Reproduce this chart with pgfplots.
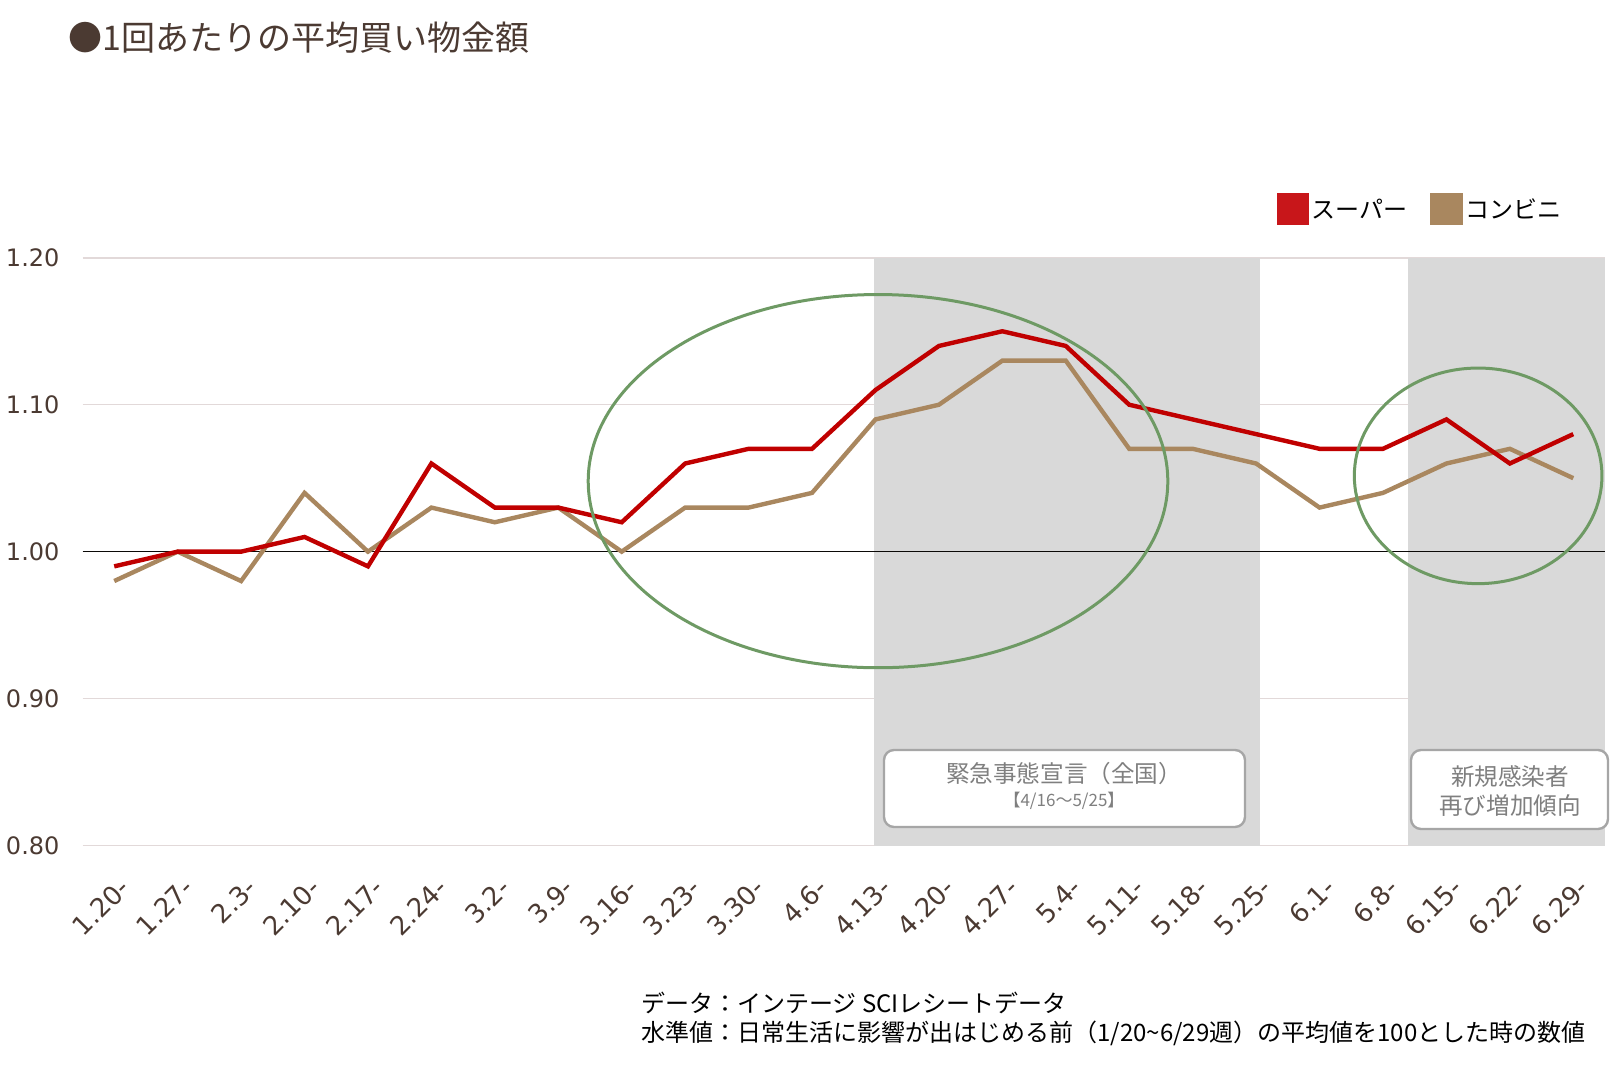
\documentclass[border=0pt]{standalone}
\usepackage{fontspec}
\usepackage{pgfplots}
\pgfplotsset{compat=1.18}
\setmainfont{Noto Sans CJK JP}
\newfontfamily\vd{DejaVu Sans}
\definecolor{redl}{HTML}{C00000}
\definecolor{redleg}{HTML}{C8161A}
\definecolor{brownl}{HTML}{A9875F}
\definecolor{gridc}{HTML}{E2D9D9}
\definecolor{txt}{HTML}{4B3A32}
\definecolor{shadec}{HTML}{D9D9D9}
\definecolor{ell}{HTML}{6E9A64}
\definecolor{boxb}{HTML}{A6A6A6}
\definecolor{boxt}{HTML}{7F7F7F}
\begin{document}
\begin{tikzpicture}
\path[use as bounding box] (0,0) rectangle (808.5pt,-532.5pt);
\begin{axis}[at={(41.25pt,-422.75pt)}, anchor=south west, scale only axis,
  width=761.25pt, height=293.85pt,
  xmin=-0.5, xmax=23.5, ymin=0.8, ymax=1.2,
  axis line style={draw=none}, tick style={draw=none},
  ytick={0.8,0.9,1.0,1.1,1.2}, yticklabels={0.80,0.90,1.00,1.10,1.20},
  ymajorgrids, major grid style={color=gridc, line width=0.75pt},
  xtick={0,...,23},
  xticklabels={1.20-,1.27-,2.3-,2.10-,2.17-,2.24-,3.2-,3.9-,3.16-,3.23-,3.30-,4.6-,4.13-,4.20-,4.27-,5.4-,5.11-,5.18-,5.25-,6.1-,6.8-,6.15-,6.22-,6.29-},
  yticklabel style={font=\vd\fontsize{12}{14}\selectfont, text=txt, xshift=-8pt},
  xticklabel style={font=\vd\fontsize{13}{15}\selectfont, text=txt, rotate=45, anchor=east, xshift=-6pt, yshift=-17pt},
  /pgf/number format/assume math mode=true,
  clip=false]
\fill[shadec] (axis cs:11.97,0.8) rectangle (axis cs:18.06,1.2);
\fill[shadec] (axis cs:20.4,0.8) rectangle (axis cs:23.5,1.2);
\draw[black!85!txt, line width=0.8pt] (axis cs:-0.5,1) -- (axis cs:23.5,1);
\addplot[brownl, line width=2.2pt] coordinates {
(0,0.98)(1,1.00)(2,0.98)(3,1.04)(4,1.00)(5,1.03)(6,1.02)(7,1.03)(8,1.00)(9,1.03)(10,1.03)(11,1.04)
(12,1.09)(13,1.10)(14,1.13)(15,1.13)(16,1.07)(17,1.07)(18,1.06)(19,1.03)(20,1.04)(21,1.06)(22,1.07)(23,1.05)};
\addplot[redl, line width=2.2pt] coordinates {
(0,0.99)(1,1.00)(2,1.00)(3,1.01)(4,0.99)(5,1.06)(6,1.03)(7,1.03)(8,1.02)(9,1.06)(10,1.07)(11,1.07)
(12,1.11)(13,1.14)(14,1.15)(15,1.14)(16,1.10)(17,1.09)(18,1.08)(19,1.07)(20,1.07)(21,1.09)(22,1.06)(23,1.08)};
\draw[ell, line width=1.5pt] (axis cs:12.04,1.048) ellipse [x radius=144.9pt, y radius=93.3pt];
\draw[ell, line width=1.5pt] (axis cs:21.5,1.0516) ellipse [x radius=61.9pt, y radius=53.9pt];
\end{axis}
\begin{scope}[x=0.5pt, y=-0.5pt]
\node[anchor=west, text=txt, inner sep=0pt, font=\fontsize{17}{20}\selectfont] at (68,38) {●1回あたりの平均買い物金額};
\fill[redleg] (1277,193) rectangle (1309,225);
\node[anchor=west, inner sep=0pt, font=\fontsize{12}{14}\selectfont] at (1311,209) {スーパー};
\fill[brownl] (1430,193) rectangle (1463,225);
\node[anchor=west, inner sep=0pt, font=\fontsize{12}{14}\selectfont] at (1465,209) {コンビニ};
\draw[boxb, fill=white, line width=1.2pt, rounded corners=5pt] (884,750) rectangle (1245,827);
\node[text=boxt, inner sep=0pt, font=\fontsize{11.8}{14}\selectfont] at (1064,774) {緊急事態宣言（全国）};
\node[text=boxt, inner sep=0pt, font=\fontsize{8.5}{10}\selectfont] at (1064,801) {【4/16～5/25】};
\draw[boxb, fill=white, line width=1.2pt, rounded corners=5pt] (1411,750) rectangle (1608,829);
\node[text=boxt, inner sep=0pt, font=\fontsize{11.8}{14}\selectfont] at (1510,777) {新規感染者};
\node[text=boxt, inner sep=0pt, font=\fontsize{11.8}{14}\selectfont] at (1510,806) {再び増加傾向};
\node[anchor=west, inner sep=0pt, font=\fontsize{12}{14}\selectfont] at (641,1003) {データ：インテージ SCIレシートデータ};
\node[anchor=west, inner sep=0pt, font=\fontsize{12}{14}\selectfont] at (641,1033) {水準値：日常生活に影響が出はじめる前（1/20\char`~6/29週）の平均値を100とした時の数値};
\end{scope}
\end{tikzpicture}
\end{document}
